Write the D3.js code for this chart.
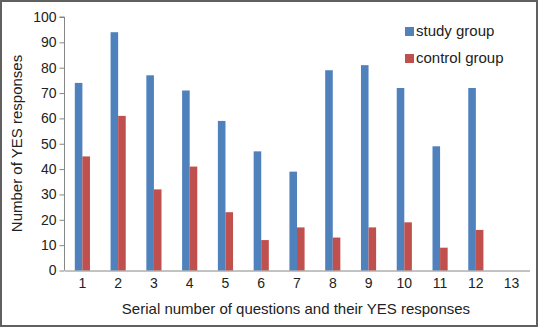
<!DOCTYPE html>
<html>
<head>
<meta charset="utf-8">
<script src="https://cdn.jsdelivr.net/npm/d3@7"></script>
<style>
  html, body { margin: 0; padding: 0; background: #fff; }
  svg { display: block; font-family: "Liberation Sans", Arial, sans-serif; }
</style>
</head>
<body>
<script>
const categories = ["1","2","3","4","5","6","7","8","9","10","11","12","13"];
const studyGroup = [74, 94, 77, 71, 59, 47, 39, 79, 81, 72, 49, 72, null];
const controlGroup = [45, 61, 32, 41, 23, 12, 17, 13, 17, 19, 9, 16, null];
const yTicks = [0, 10, 20, 30, 40, 50, 60, 70, 80, 90, 100];
const seriesNames = ["study group", "control group"];
const seriesColors = ["#4F81BD", "#C0504D"];

const W = 538, H = 327;
const m = { left: 64.5, right: 8.5, top: 17, bottom: 56.5 };

const svg = d3.select("body").append("svg").attr("width", W).attr("height", H);

svg.append("rect").attr("x", 1).attr("y", 1).attr("width", W - 2).attr("height", H - 2)
  .attr("fill", "#fff").attr("stroke", "#606060").attr("stroke-width", 2);

const x = d3.scaleBand().domain(categories).range([m.left, W - m.right]);
const y = d3.scaleLinear().domain([0, 100]).range([H - m.bottom, m.top]);
const inner = d3.scaleBand().domain(seriesNames).range([0, x.bandwidth()]).paddingInner(0).paddingOuter(1.36);

const g = svg.append("g");
const series = [studyGroup, controlGroup];
series.forEach((vals, si) => {
  g.selectAll(null)
    .data(categories.map((c, i) => ({ c, v: vals[i] })).filter(d => d.v != null))
    .join("rect")
    .attr("x", d => x(d.c) + inner(seriesNames[si]))
    .attr("width", inner.bandwidth())
    .attr("y", d => y(d.v))
    .attr("height", d => y(0) - y(d.v))
    .attr("fill", seriesColors[si]);
});

// y axis
const ya = svg.append("g").attr("transform", `translate(${m.left},0)`)
  .call(d3.axisLeft(y).tickValues(yTicks).tickSize(5).tickPadding(3).tickFormat(d3.format("d")));
ya.select(".domain").attr("stroke", "#868686").attr("d", `M-5,${y(100)}H0V${y(0)}`);
ya.selectAll(".tick line").attr("stroke", "#868686");
ya.selectAll(".tick text").attr("font-size", 14).attr("fill", "#222").attr("font-family", "Liberation Sans, Arial, sans-serif");

// x axis
const xa = svg.append("g").attr("transform", `translate(0,${y(0)})`)
  .call(d3.axisBottom(x).tickSize(0).tickPadding(8));
xa.select(".domain").attr("stroke", "#868686");
xa.selectAll(".tick text").attr("font-size", 14).attr("fill", "#222").attr("font-family", "Liberation Sans, Arial, sans-serif");

// titles
svg.append("text").attr("x", 296).attr("y", 314).attr("text-anchor", "middle")
  .attr("font-size", 15).attr("fill", "#222")
  .text("Serial number of questions and their YES responses");
svg.append("text").attr("transform", "translate(22,143.5) rotate(-90)").attr("text-anchor", "middle")
  .attr("font-size", 15).attr("fill", "#222")
  .text("Number of YES responses");

// legend
const lg = svg.append("g");
seriesNames.forEach((n, i) => {
  const yy = 27 + i * 27;
  lg.append("rect").attr("x", 405).attr("y", yy).attr("width", 9).attr("height", 9).attr("fill", seriesColors[i]);
  lg.append("text").attr("x", 416).attr("y", yy + 9).attr("font-size", 15).attr("fill", "#222").text(n);
});
</script>
</body>
</html>
